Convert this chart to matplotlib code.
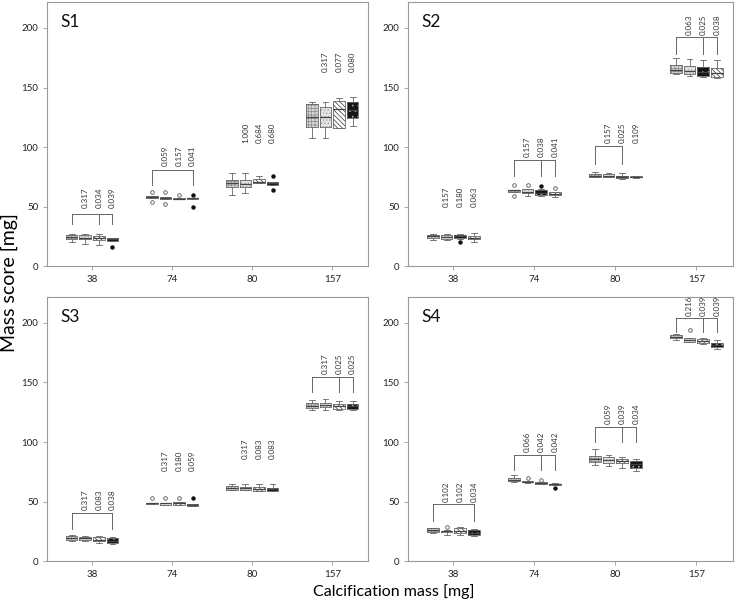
import matplotlib.pyplot as plt

plt.rcParams['font.family'] = ['Lato', 'DejaVu Sans']
plt.rcParams['hatch.linewidth'] = 0.5

categories = ['38', '74', '80', '157']

# (whislo, q1, med, q3, whishi) for the 4 boxes of each mass group
s1_boxes = [
    [(20, 22.5, 24.5, 26.3, 27), (18.5, 22.5, 24, 26.5, 27), (18, 21.5, 23.5, 25.5, 27), (21, 21, 22.5, 24, 24)],
    [(57, 57, 58, 59, 59), (56, 56.5, 57, 58, 58), (56, 56, 56.5, 57, 57), (56.5, 56.5, 57, 57.5, 57.5)],
    [(60, 66.5, 70, 72, 78), (61, 66.5, 69, 72, 78), (70, 70, 71, 73, 75.5), (68.5, 68.5, 69.5, 70.5, 70.5)],
    [(108, 117, 125, 136, 138), (108, 117, 125, 134, 138), (116, 116, 132, 139, 141), (118, 124, 131, 138, 142)],
]
s1_fliers = [[[], [], [], [16]], [[62, 54], [62, 52.5], [60], [60, 50]], [[], [], [], [76, 64]], [[], [], [], []]]
s1_pvals = [['0.317', '0.034', '0.039'], ['0.059', '0.157', '0.041'], ['1.000', '0.684', '0.680'], ['0.317', '0.077', '0.080']]
s1_text_y = [49, 84, 103, 163]
s1_bracket_y = [44, 80.5, None, None]
s1_drop_y = [35, 68, None, None]
s1_drop_boxes = [[0, 2, 3], [0, 3], [], []]
s1_styles = [0, 1, 2, 3]

s2_boxes = [
    [(22, 24, 25, 26.5, 27), (21.5, 23, 24.5, 26.5, 27), (23, 23.5, 25, 26.5, 27), (20, 22.5, 23.5, 25, 27.5)],
    [(62.5, 62.5, 63.5, 64, 64), (59, 61, 62, 64.5, 64.5), (58.5, 60, 61.5, 63.5, 65), (58, 59.5, 60.5, 62.5, 62.5)],
    [(74.5, 75, 76, 77, 79), (75, 75, 76, 77.5, 78), (73.5, 74, 75, 76, 78), (74, 74.5, 75, 75.5, 76)],
    [(161, 162, 165, 169, 175), (160, 161, 164, 168, 174), (159, 160, 163, 167, 173), (158, 159, 162, 166, 173)],
]
s2_fliers = [[[], [], [20], []], [[68, 59], [68], [67], [66]], [[], [], [], []], [[], [], [], []]]
s2_pvals = [['0.157', '0.180', '0.063'], ['0.157', '0.038', '0.041'], ['0.157', '0.025', '0.109'], ['0.063', '0.025', '0.038']]
s2_text_y = [50, 91.5, 103, 194]
s2_bracket_y = [None, 89.5, 100.5, 192.5]
s2_drop_y = [None, 76, 86, 178]
s2_drop_boxes = [[], [0, 2, 3], [0, 2], [0, 2, 3]]
s2_styles = [0, 1, 3, 2]

s3_boxes = [
    [(16.5, 17.5, 19, 21, 22), (17, 17.5, 19, 20.5, 21), (15.5, 16.5, 18, 20, 21), (14.5, 15.5, 17, 19, 20)],
    [(48, 48, 48.5, 49, 49), (47.5, 47.5, 48.5, 49, 49), (47.5, 47.5, 48.5, 49.5, 49.5), (46.5, 46.5, 47.5, 48, 48)],
    [(59.5, 60, 61.5, 63, 65), (59.5, 60, 61, 62.5, 65), (58.5, 59, 60.5, 62, 65), (58.5, 59, 60.5, 61.5, 65)],
    [(127, 128.5, 130.5, 132.5, 135), (127, 129, 131, 133, 136), (127, 128, 130, 132, 134.5), (127, 128, 130, 132, 134.5)],
]
s3_fliers = [[[], [], [], []], [[53], [53], [53], [53]], [[], [], [], []], [[], [], [], []]]
s3_pvals = [['0.317', '0.083', '0.038'], ['0.317', '0.180', '0.059'], ['0.317', '0.083', '0.083'], ['0.317', '0.025', '0.025']]
s3_text_y = [42.5, 76, 86, 157]
s3_bracket_y = [40.5, None, None, 155]
s3_drop_y = [27, None, None, 142]
s3_drop_boxes = [[0, 3], [], [], [0, 2, 3]]
s3_styles = [0, 1, 2, 3]

s4_boxes = [
    [(23.5, 24.5, 26, 27.5, 28), (22, 24, 25, 25.5, 26), (21.5, 23.5, 25.5, 28, 28.5), (21, 21.5, 23.5, 26, 27)],
    [(66, 67, 68, 69.5, 72), (65.5, 66, 66.5, 67, 67.5), (64.5, 65, 65.5, 66, 66.5), (63.5, 64, 64.5, 65, 65.5)],
    [(80.5, 83, 86, 88, 94), (80, 82.5, 85, 87, 89.5), (78.5, 82, 84, 86, 87), (76, 78.5, 81.5, 84, 86)],
    [(186, 187, 188, 189.5, 190.5), (184, 184, 185.5, 187, 187), (182.5, 183, 184.5, 186.5, 187.5), (178.5, 180, 181.5, 183, 185.5)],
]
s4_fliers = [[[], [28.5], [], []], [[], [69.5], [68.5], [61]], [[], [], [], []], [[], [194], [], []]]
s4_pvals = [['0.102', '0.102', '0.034'], ['0.066', '0.042', '0.042'], ['0.059', '0.039', '0.034'], ['0.216', '0.039', '0.039']]
s4_text_y = [49.5, 91.5, 115, 206]
s4_bracket_y = [48, 89.5, 113, 204.5]
s4_drop_y = [34, 76.5, 100, 192]
s4_drop_boxes = [[0, 3], [0, 2, 3], [0, 2, 3], [0, 2, 3]]
s4_styles = [0, 1, 2, 3]

# fill, hatch, hatch colour per box style
style_fill = ['#d6d6d6', '#e4e4e4', 'white', '#141414']
style_hatch = ['+++++', '.....', '\\\\\\\\\\\\\\', '...']
style_hatch_col = ['#8a8a8a', '#9a9a9a', '#333333', '#b0b0b0']

offsets = [-0.255, -0.085, 0.085, 0.255]
box_w = 0.145
line_col = '#666666'


def draw_panel(ax, name, boxes, fliers, pvals, text_y, bracket_y, drop_y, drop_boxes, styles):
    for g in range(len(categories)):
        for k in range(4):
            s = styles[k]
            wl, q1, med, q3, wh = boxes[g][k]
            st = [dict(whislo=wl, q1=q1, med=med, q3=q3, whishi=wh, fliers=fliers[g][k])]
            pos = [g + offsets[k]]
            ax.bxp(st, positions=pos, widths=box_w, patch_artist=True, showfliers=False,
                   boxprops=dict(facecolor=style_fill[s], edgecolor=style_hatch_col[s],
                                 hatch=style_hatch[s], linewidth=0),
                   whiskerprops=dict(linewidth=0), capprops=dict(linewidth=0),
                   medianprops=dict(linewidth=0), manage_ticks=False)
            if s == 3:
                fp = dict(marker='o', markersize=2.2, markerfacecolor='#111111',
                          markeredgecolor='#111111', linestyle='none')
            else:
                fp = dict(marker='o', markersize=2.6, markerfacecolor='white',
                          markeredgecolor='#555555', markeredgewidth=0.6, linestyle='none')
            ax.bxp(st, positions=pos, widths=box_w, capwidths=box_w * 0.5,
                   boxprops=dict(color=line_col, linewidth=0.6),
                   whiskerprops=dict(color=line_col, linewidth=0.6),
                   capprops=dict(color=line_col, linewidth=0.6),
                   medianprops=dict(color='#444444', linewidth=0.9),
                   flierprops=fp, manage_ticks=False)

        # significance brackets
        if bracket_y[g] is not None:
            xs = [g + offsets[k] for k in drop_boxes[g]]
            ax.plot([min(xs), max(xs)], [bracket_y[g]] * 2, color=line_col, lw=0.7)
            for x in xs:
                ax.plot([x, x], [drop_y[g], bracket_y[g]], color=line_col, lw=0.7)

        for k, p in enumerate(pvals[g]):
            ax.text(g + offsets[k + 1], text_y[g], p, rotation=90, ha='center', va='bottom',
                    fontsize=5.8, color='#333333', clip_on=True)

    ax.set_xlim(-0.56, 3.45)
    ax.set_ylim(0, 222)
    ax.set_xticks(range(len(categories)))
    ax.set_xticklabels(categories)
    ax.set_yticks([0, 50, 100, 150, 200])
    for sp in ax.spines.values():
        sp.set_color('#999999')
        sp.set_linewidth(0.8)
    ax.tick_params(labelsize=7, colors='#999999', labelcolor='#222222', length=3, width=0.6)
    ax.text(0.04, 0.955, name, transform=ax.transAxes, fontsize=12.5, va='top', ha='left',
            color='#111111')


fig = plt.figure(figsize=(7.38, 6.02), dpi=100)
ax1 = fig.add_axes([0.064, 0.558, 0.435, 0.439])
ax2 = fig.add_axes([0.553, 0.558, 0.440, 0.439])
ax3 = fig.add_axes([0.064, 0.068, 0.435, 0.439])
ax4 = fig.add_axes([0.553, 0.068, 0.440, 0.439])

draw_panel(ax1, 'S1', s1_boxes, s1_fliers, s1_pvals, s1_text_y, s1_bracket_y, s1_drop_y, s1_drop_boxes, s1_styles)
draw_panel(ax2, 'S2', s2_boxes, s2_fliers, s2_pvals, s2_text_y, s2_bracket_y, s2_drop_y, s2_drop_boxes, s2_styles)
draw_panel(ax3, 'S3', s3_boxes, s3_fliers, s3_pvals, s3_text_y, s3_bracket_y, s3_drop_y, s3_drop_boxes, s3_styles)
draw_panel(ax4, 'S4', s4_boxes, s4_fliers, s4_pvals, s4_text_y, s4_bracket_y, s4_drop_y, s4_drop_boxes, s4_styles)

fig.text(0.013, 0.53, 'Mass score [mg]', rotation=90, va='center', ha='center', fontsize=14)
fig.text(0.533, 0.018, 'Calcification mass [mg]', va='center', ha='center', fontsize=11.5)

fig.savefig('out.png', dpi=100)
